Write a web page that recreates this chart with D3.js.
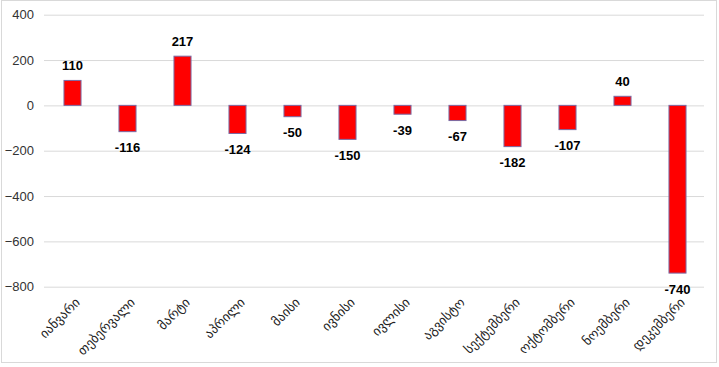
<!DOCTYPE html>
<html><head><meta charset="utf-8">
<script src="https://cdn.jsdelivr.net/npm/d3@7"></script>
<style>html,body{margin:0;padding:0;background:#fff;}svg{display:block;}</style>
</head><body>
<svg id="chart" width="719" height="367"></svg>
<script>
const categories = ["იანვარი","თებერვალი","მარტი","აპრილი","მაისი","ივნისი","ივლისი","აგვისტო","სექტემბერი","ოქტომბერი","ნოემბერი","დეკემბერი"];
const values = [110, -116, 217, -124, -50, -150, -39, -67, -182, -107, 40, -740];
const yTicks = [400, 200, 0, -200, -400, -600, -800];

const svg = d3.select("#chart");

svg.append("rect").attr("x", 1.5).attr("y", 0.5).attr("width", 715).attr("height", 362)
  .attr("fill", "#fff").attr("stroke", "#d9d9d9").attr("stroke-width", 1);

const x = d3.scaleBand().domain(categories).range([45, 705]).paddingInner(0.69).paddingOuter(0.345);
const y = d3.scaleLinear().domain([-800, 400]).range([286.7, 14.7]);

// gridlines
const yAxis = d3.axisLeft(y).tickValues(yTicks).tickSize(-(704 - 44)).tickPadding(10).tickFormat(d3.format("d"));
const gy = svg.append("g").attr("transform", "translate(44,0)").call(yAxis);
gy.select(".domain").remove();
gy.selectAll(".tick line").attr("stroke", "#d9d9d9").attr("stroke-width", 1);
gy.selectAll(".tick text").attr("font-family", "Liberation Sans, Arial, sans-serif")
  .attr("font-size", 13).attr("fill", "#333");

// bars
svg.append("g").selectAll("rect").data(values).join("rect")
  .attr("x", (d, i) => x(categories[i]))
  .attr("width", x.bandwidth())
  .attr("y", d => y(Math.max(0, d)))
  .attr("height", d => Math.abs(y(d) - y(0)))
  .attr("fill", "#ff0000")
  .attr("stroke", "#7a6aa3").attr("stroke-width", 1);

// data labels
svg.append("g").selectAll("text").data(values).join("text")
  .attr("x", (d, i) => x(categories[i]) + x.bandwidth() / 2)
  .attr("y", d => d >= 0 ? y(d) - 15 : y(d) + 16)
  .attr("dy", "0.35em")
  .attr("text-anchor", "middle")
  .attr("font-family", "Liberation Sans, Arial, sans-serif")
  .attr("font-weight", "bold").attr("font-size", 13).attr("fill", "#000")
  .text(d => d);

// category labels
const xAxis = d3.axisBottom(x).tickSize(0).tickPadding(0);
const gx = svg.append("g").attr("transform", "translate(0,300)").call(xAxis);
gx.select(".domain").remove();
gx.selectAll(".tick text")
  .attr("font-family", "DejaVu Sans, sans-serif").attr("font-size", 13).attr("fill", "#222")
  .attr("text-anchor", "end").attr("dy", "0.35em")
  .attr("transform", "translate(5,0) rotate(-45)");
</script>
</body></html>
